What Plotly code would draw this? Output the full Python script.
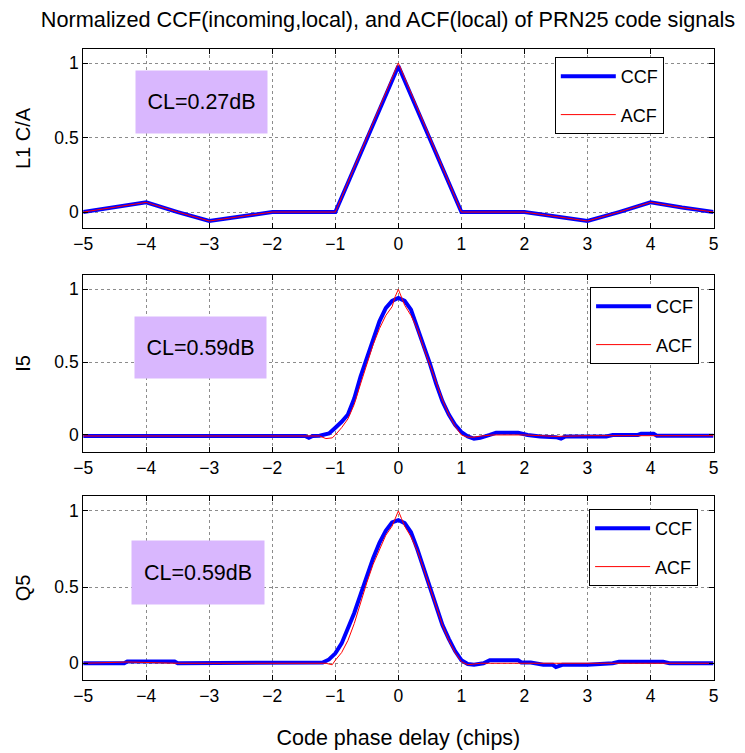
import plotly.graph_objects as go

# ---------------- data ----------------
TITLE = "Normalized CCF(incoming,local), and ACF(local) of PRN25 code signals"
XLABEL = "Code phase delay (chips)"
PANEL_LABELS = ["L1 C/A", "I5", "Q5"]
CL_TEXTS = ["CL=0.27dB", "CL=0.59dB", "CL=0.59dB"]
SERIES_NAMES = ["CCF", "ACF"]

# L1 C/A
l1_ccf_x = [-5, -4.5, -4, -3.5, -3, -2.5, -2, -1, 0, 1, 2, 2.5, 3, 3.5, 4, 4.5, 5]
l1_ccf_y = [0.0, 0.03, 0.065, 0.0, -0.06, -0.03, 0.0, 0.0, 0.98, 0.0, 0.0, -0.03, -0.06, 0.0, 0.065, 0.03, 0.0]
l1_acf_x = [-5, -4.5, -4, -3.5, -3, -2.5, -2, -1, 0, 1, 2, 2.5, 3, 3.5, 4, 4.5, 5]
l1_acf_y = [0.0, 0.03, 0.065, 0.0, -0.06, -0.03, 0.0, 0.0, 1.0, 0.0, 0.0, -0.03, -0.06, 0.0, 0.065, 0.03, 0.0]

# I5
i5_ccf_x = [-5, -1.48, -1.42, -1.36, -1.25, -1.1, -1.0, -0.9, -0.8, -0.7, -0.6, -0.5, -0.4, -0.3, -0.2, -0.1, 0.0,
            0.1, 0.2, 0.3, 0.4, 0.5, 0.6, 0.7, 0.8, 0.9, 1.0, 1.1, 1.2, 1.3, 1.45, 1.55, 1.9, 2.05, 2.25,
            2.5, 2.58, 2.65, 3.3, 3.4, 3.8, 3.85, 4.05, 4.1, 5]
i5_ccf_y = [-0.007, -0.007, -0.02, -0.007, -0.005, 0.01, 0.05, 0.09, 0.14, 0.25, 0.40, 0.53, 0.65, 0.78, 0.87, 0.92, 0.94,
            0.92, 0.86, 0.74, 0.61, 0.49, 0.35, 0.23, 0.14, 0.07, 0.02, -0.01, -0.025, -0.02, 0.0, 0.015, 0.015, 0.0, -0.01,
            -0.015, -0.025, -0.01, -0.01, 0.0, 0.0, 0.008, 0.008, -0.005, -0.005]
i5_acf_x = [-5, -1.25, -1.15, -1.05, -1.0, -0.9, -0.8, -0.7, -0.6, -0.5, -0.4, -0.3, -0.2, -0.1, -0.05, 0.0,
            0.05, 0.1, 0.2, 0.3, 0.4, 0.5, 0.6, 0.7, 0.8, 0.9, 1.0, 1.1, 1.2, 1.3, 1.5, 2.0, 2.5, 3.0, 5]
i5_acf_y = [-0.007, -0.007, -0.025, -0.02, 0.0, 0.05, 0.11, 0.21, 0.35, 0.49, 0.62, 0.73, 0.82, 0.88, 0.95, 1.0,
            0.95, 0.89, 0.82, 0.73, 0.60, 0.48, 0.35, 0.24, 0.14, 0.06, 0.0, -0.015, -0.015, -0.008, 0.0, 0.0, -0.01, -0.005, -0.005]

# Q5
q5_ccf_x = [-5, -4.35, -4.3, -3.55, -3.5, -1.3, -1.2, -1.1, -1.0, -0.9, -0.8, -0.7, -0.6, -0.5, -0.4, -0.3, -0.2, -0.1, 0.0,
            0.1, 0.2, 0.3, 0.4, 0.5, 0.6, 0.7, 0.8, 0.9, 1.0, 1.1, 1.2, 1.35, 1.45, 1.9, 1.95, 2.1, 2.3, 2.45, 2.5, 2.6,
            3.0, 3.4, 3.5, 4.2, 4.3, 5]
q5_ccf_y = [0.0, 0.0, 0.012, 0.012, 0.0, 0.0, 0.005, 0.025, 0.065, 0.13, 0.23, 0.33, 0.45, 0.58, 0.69, 0.79, 0.87, 0.925, 0.94,
            0.92, 0.86, 0.75, 0.62, 0.50, 0.36, 0.25, 0.16, 0.08, 0.02, -0.005, -0.01, 0.0, 0.02, 0.02, 0.005, 0.005, -0.01, -0.01, -0.025, -0.01,
            -0.01, 0.0, 0.01, 0.01, 0.0, 0.0]
q5_acf_x = [-5, -4.3, -3.5, -1.15, -1.05, -1.0, -0.9, -0.8, -0.7, -0.6, -0.5, -0.4, -0.3, -0.2, -0.1, -0.05, 0.0,
            0.05, 0.1, 0.2, 0.3, 0.4, 0.5, 0.6, 0.7, 0.8, 0.9, 1.0, 1.1, 1.3, 2.0, 3.0, 5]
q5_acf_y = [0.0, 0.008, 0.0, 0.0, -0.01, 0.02, 0.07, 0.15, 0.26, 0.40, 0.53, 0.65, 0.75, 0.84, 0.90, 0.95, 1.0,
            0.95, 0.90, 0.83, 0.74, 0.62, 0.50, 0.37, 0.25, 0.15, 0.07, 0.01, -0.01, 0.0, 0.0, 0.0, 0.0]

X_TICKS = [-5, -4, -3, -2, -1, 0, 1, 2, 3, 4, 5]
Y_TICKS = [0, 0.5, 1]
Y_TICKTEXT = ["0", "0.5", "1"]

# ---------------- styling ----------------
W, H = 745, 753
FONT = "Liberation Sans, Arial, sans-serif"
panels = [
    (l1_ccf_x, l1_ccf_y, l1_acf_x, l1_acf_y),
    (i5_ccf_x, i5_ccf_y, i5_acf_x, i5_acf_y),
    (q5_ccf_x, q5_ccf_y, q5_acf_x, q5_acf_y),
]
px_left, px_right = 74.7, 718
px_rows = [(49, 228), (275, 451.7), (496, 680)]
y_ranges = [(-0.107, 1.094), (-0.115, 1.098), (-0.11, 1.098)]
legend_pos = [(556, 57), (592, 287), (591, 509)]
box_geo = [(195.5, 102, 131, 62), (194.5, 347.5, 131, 61), (192, 572, 132, 63)]

fig = go.Figure()
layout = dict(
    width=W, height=H,
    margin=dict(l=0, r=0, t=0, b=0),
    paper_bgcolor="white", plot_bgcolor="white",
    font=dict(family=FONT, size=17, color="black"),
    title=dict(text=TITLE, x=388 / W, xanchor="center", y=1 - 19 / H, yanchor="middle",
               font=dict(family=FONT, size=21.7, color="black")),
    annotations=[],
)

for i, (cx, cy, ax_, ay) in enumerate(panels):
    n = "" if i == 0 else str(i + 1)
    xa, ya = "x" + n, "y" + n
    lg = "legend" + n
    fig.add_trace(go.Scatter(x=cx, y=cy, mode="lines", name=SERIES_NAMES[0],
                             line=dict(color="#0000FF", width=4), xaxis=xa, yaxis=ya,
                             legend=lg, legendgroup="ccf" + n))
    fig.add_trace(go.Scatter(x=ax_, y=ay, mode="lines", name=SERIES_NAMES[1],
                             line=dict(color="#FF0000", width=1), xaxis=xa, yaxis=ya,
                             legend=lg, legendgroup="acf" + n))
    top, bot = px_rows[i]
    common = dict(showline=True, linecolor="black", linewidth=1, mirror="ticks",
                  ticks="inside", ticklen=5, tickcolor="black",
                  showgrid=True, gridcolor="#8c8c8c", griddash="dot", gridwidth=1,
                  zeroline=False, tickfont=dict(family=FONT, size=17.5, color="black"))
    layout["xaxis" + n] = dict(domain=[px_left / W, px_right / W], range=[-5, 5],
                               tickvals=X_TICKS, anchor=ya, **common)
    layout["yaxis" + n] = dict(domain=[1 - bot / H, 1 - top / H], range=list(y_ranges[i]),
                               tickvals=Y_TICKS, ticktext=Y_TICKTEXT, anchor=xa,
                               title=dict(text=PANEL_LABELS[i], standoff=18,
                                          font=dict(family=FONT, size=20, color="black")),
                               **common)
    lx, ly = legend_pos[i]
    layout[lg] = dict(x=lx / W, y=1 - ly / H, xanchor="left", yanchor="top",
                      bgcolor="white", bordercolor="black", borderwidth=1,
                      font=dict(family=FONT, size=18, color="black"),
                      itemwidth=55, tracegroupgap=12)
    bx, by, bw, bh = box_geo[i]
    layout["annotations"].append(dict(
        x=bx / W, y=1 - by / H, xref="paper", yref="paper", xanchor="center", yanchor="middle",
        text=CL_TEXTS[i], showarrow=False, width=bw, height=bh, borderpad=0,
        bgcolor="#D9B7FE", font=dict(family=FONT, size=21.5, color="black")))

layout["xaxis3"]["title"] = dict(text=XLABEL, standoff=24, font=dict(family=FONT, size=21.5, color="black"))

fig.update_layout(**layout)
fig.write_html("out.html")
